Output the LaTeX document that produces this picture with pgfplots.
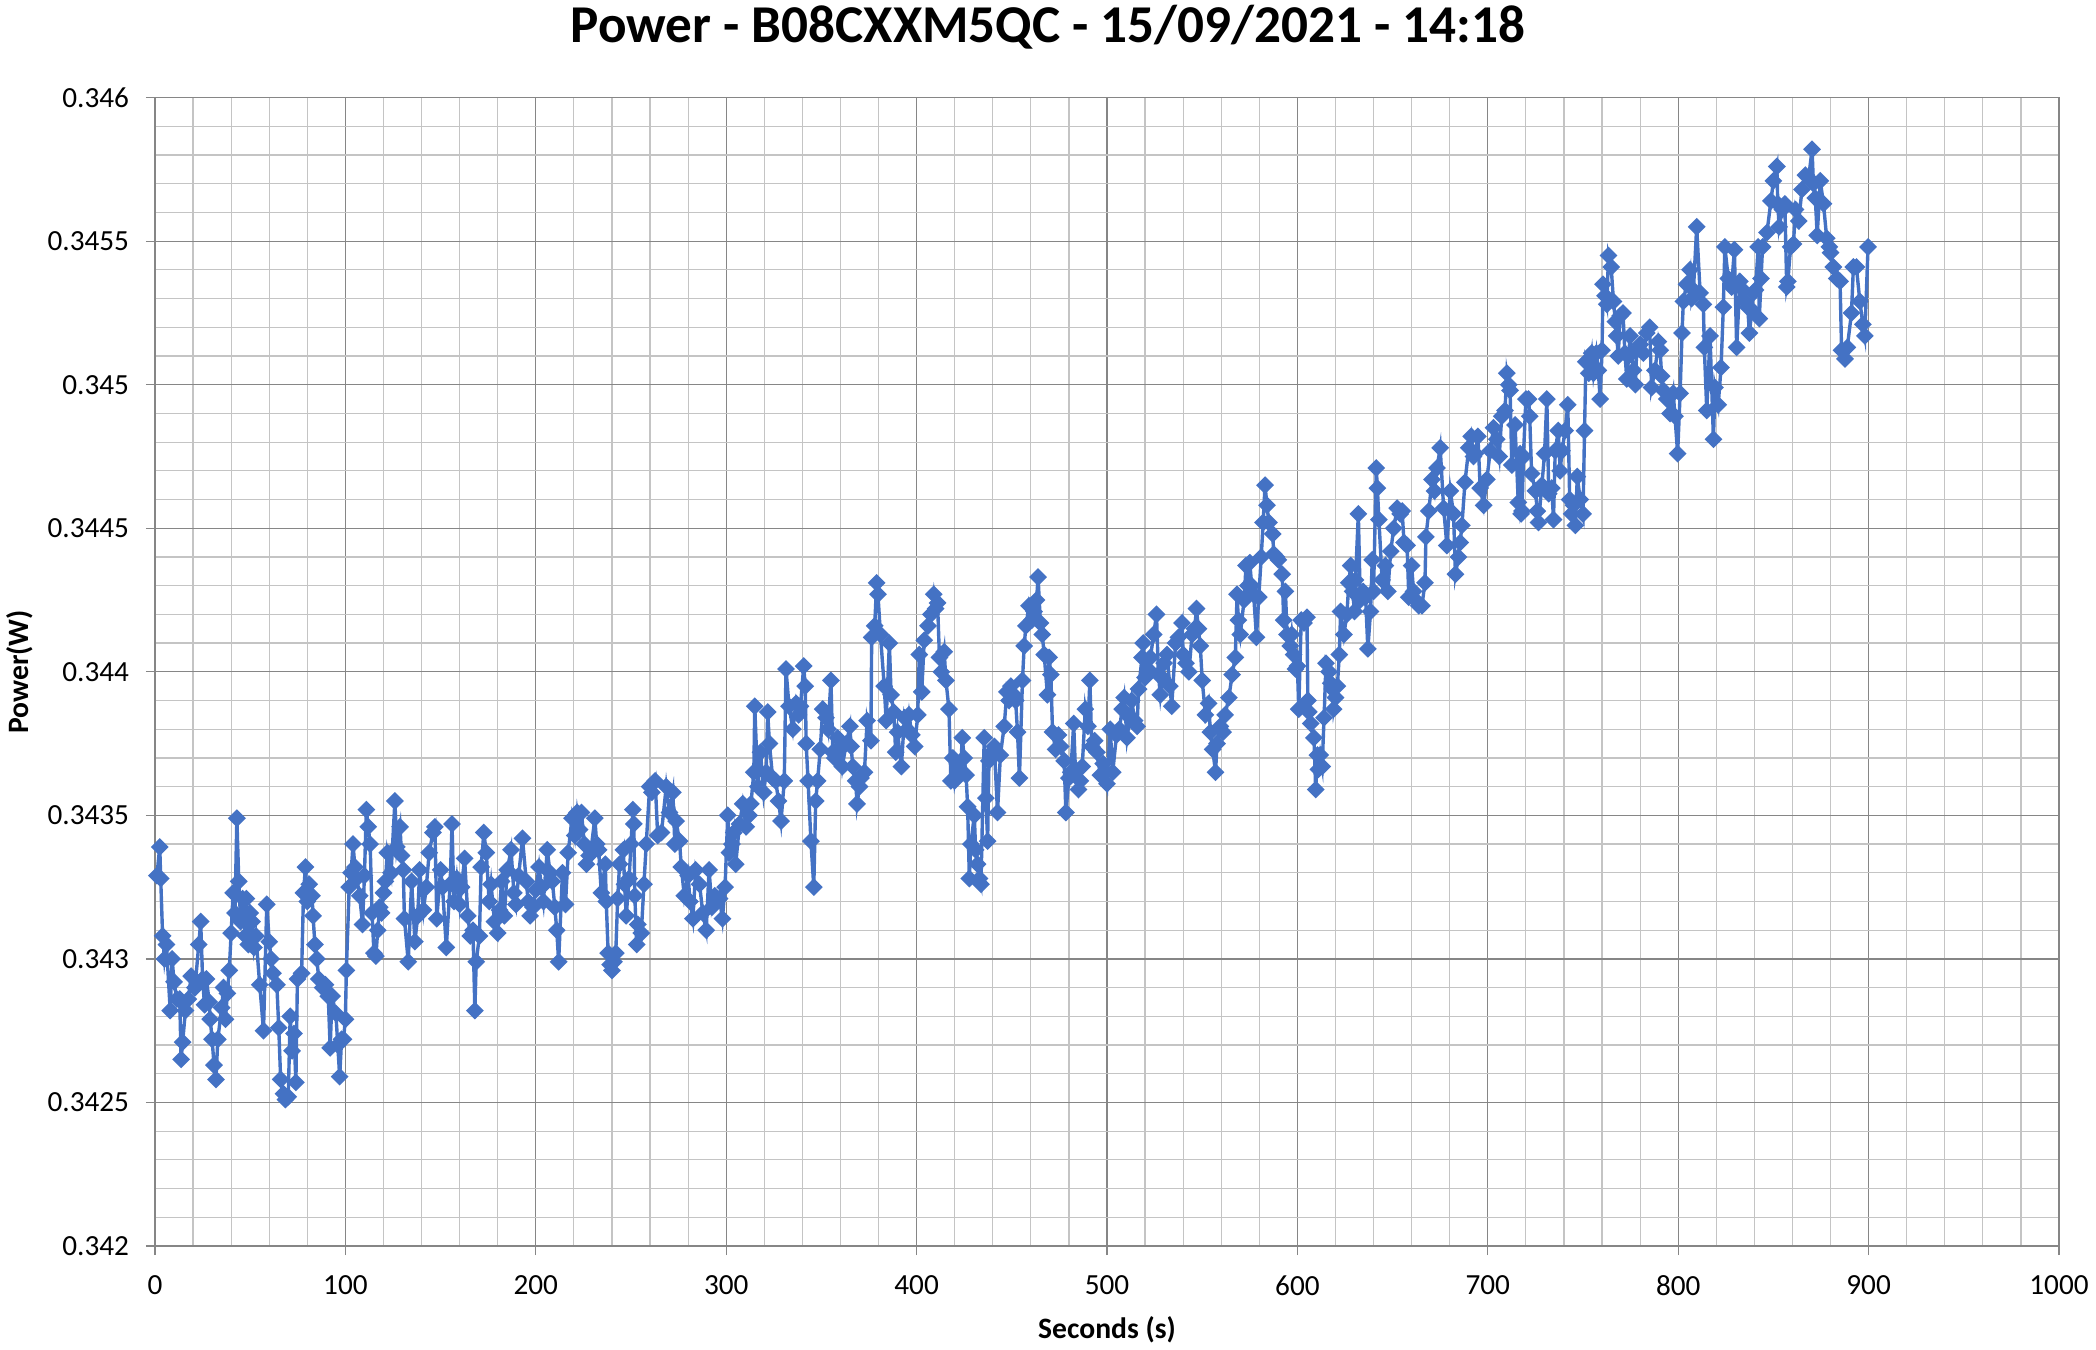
\documentclass[border=0pt]{standalone}
\usepackage{fontspec}
\setmainfont{Carlito}
\usepackage{pgfplots}
\pgfplotsset{compat=1.18}
\definecolor{xlblue}{RGB}{68,114,196}
\definecolor{gmaj}{RGB}{134,134,134}
\definecolor{gmin}{RGB}{196,196,196}

\begin{document}
\begin{tikzpicture}
\begin{axis}[
  scale only axis, width=476pt, height=287.1pt,
  xmin=0, xmax=1000, ymin=0.342, ymax=0.346,
  xtick={0,100,200,300,400,500,600,700,800,900,1000},
  xticklabels={0,100,200,300,400,500,600,700,800,900,1000},
  ytick={0.342,0.3425,0.343,0.3435,0.344,0.3445,0.345,0.3455,0.346},
  yticklabels={0.342,0.3425,0.343,0.3435,0.344,0.3445,0.345,0.3455,0.346},
  minor x tick num=4, minor y tick num=4,
  grid=both,
  major grid style={gmaj, line width=0.3pt},
  minor grid style={gmin, line width=0.3pt},
  axis line style={gmaj, line width=0.3pt},
  tick pos=left, tick align=outside,
  major tick length=2.3pt, minor tick length=0pt,
  major tick style={gmaj, line width=0.3pt},
  tick label style={font=\fontsize{7.3}{8.8}\selectfont},
  yticklabel style={inner sep=0pt, xshift=-4pt},
  xticklabel style={inner sep=0pt, yshift=-5pt},
  /pgf/number format/assume math mode=true,
  title={Power - B08CXXM5QC - 15/09/2021 - 14:18},
  every axis title/.style={at={(axis description cs:0.469,1.0617)}, anchor=center,
    font=\bfseries\fontsize{13.3}{16}\selectfont},
  xlabel={Seconds (s)},
  every axis x label/.style={at={(axis description cs:0.5,-0.0731)}, anchor=center,
    font=\bfseries\fontsize{7.4}{9}\selectfont},
  ylabel={Power(W)},
  every axis y label/.style={at={(axis description cs:-0.0709,0.5)}, anchor=center, rotate=90,
    font=\bfseries\fontsize{7.4}{9}\selectfont},
]
\addplot[xlblue, line width=0.85pt, mark=square*, mark size=1.15pt,
  mark options={rotate=45, fill=xlblue, draw=xlblue, solid}] table {
x y
1 0.34329
2.5 0.34339
3 0.34328
4 0.34308
5 0.34300
6 0.34305
8 0.34282
9 0.34300
10 0.34292
11.5 0.34286
13 0.34286
13.7 0.34265
14.5 0.34271
16 0.34282
17.5 0.34286
19 0.34294
21 0.34290
23 0.34305
24 0.34313
25 0.34293
26 0.34284
27 0.34293
28.5 0.34285
29 0.34279
30 0.34272
31 0.34263
32 0.34258
33 0.34272
35 0.34283
36 0.34290
37 0.34279
38 0.34288
39 0.34296
40 0.34309
41 0.34323
42 0.34316
43 0.34349
44 0.34327
45 0.34313
46 0.34321
47.5 0.34308
48 0.34321
49 0.34305
50 0.34316
51 0.34313
52 0.34304
53 0.34308
55 0.34291
57 0.34275
58.7 0.34319
60 0.34306
61 0.34300
62 0.34295
64 0.34291
65 0.34276
66 0.34258
67.5 0.34253
68.5 0.34251
70 0.34252
71 0.34280
72 0.34268
73 0.34274
74 0.34257
74.8 0.34293
77 0.34295
78 0.34323
79 0.34332
80 0.34320
81 0.34326
82.5 0.34322
83 0.34315
84 0.34305
85 0.34300
86 0.34293
88 0.34290
89.5 0.34291
91 0.34287
92 0.34269
93 0.34287
95 0.34281
96 0.34270
97 0.34259
98 0.34272
99 0.34272
100 0.34279
100.5 0.34296
102 0.34325
103 0.34330
104 0.34340
105 0.34332
106 0.34328
107.5 0.34322
109 0.34312
110 0.34329
111 0.34352
112 0.34346
113 0.34340
114 0.34316
115 0.34302
116 0.34301
117 0.34310
118 0.34318
119 0.34316
120 0.34323
121 0.34327
122 0.34337
124 0.34330
126 0.34355
127 0.34339
128.7 0.34346
129.5 0.34336
130.4 0.34331
131 0.34314
133 0.34299
134.8 0.34327
136.5 0.34306
138 0.34315
139 0.34331
141 0.34317
142.5 0.34325
144 0.34337
146 0.34344
147 0.34346
148 0.34314
150 0.34331
151 0.34325
153 0.34304
155 0.34326
156 0.34347
157 0.34320
158.5 0.34328
160 0.34319
161 0.34325
162.6 0.34335
164.3 0.34315
165.6 0.34308
167 0.34310
168 0.34282
168.7 0.34299
170.4 0.34308
171.3 0.34332
172.7 0.34344
174 0.34337
175.5 0.34320
176.5 0.34326
178.3 0.34313
180 0.34309
181 0.34317
182 0.34327
183.5 0.34315
185 0.34331
187 0.34338
188.5 0.34323
189.6 0.34319
191 0.34329
193 0.34342
195 0.34327
196 0.34320
197 0.34315
198.5 0.34318
200 0.34324
201.7 0.34332
203 0.34325
204 0.34320
206 0.34338
207.5 0.34330
208.7 0.34327
210 0.34318
211 0.34310
212 0.34299
214 0.34330
215.6 0.34319
217 0.34337
219 0.34349
220.5 0.34343
221.7 0.34351
223 0.34345
224 0.34351
225.5 0.34340
226.6 0.34333
228 0.34336
229 0.34338
231 0.34349
232 0.34340
233 0.34338
234.4 0.34323
236.5 0.34333
237 0.34320
238 0.34302
239 0.34298
240 0.34296
241 0.34299
242 0.34302
243 0.34321
244 0.34333
246 0.34338
246.6 0.34326
247.5 0.34315
249 0.34328
250 0.34340
251 0.34352
251.5 0.34347
252 0.34322
253 0.34305
253.6 0.34312
255.4 0.34309
256.8 0.34326
258 0.34340
259.8 0.34360
261 0.34358
262.7 0.34362
264 0.34343
266 0.34344
268.5 0.34360
270.2 0.34351
272 0.34358
273 0.34340
273.7 0.34348
275.5 0.34341
276.4 0.34332
278 0.34322
280 0.34329
281 0.34320
282.5 0.34314
284 0.34331
286 0.34326
287.7 0.34316
289.5 0.34310
291 0.34331
292.5 0.34318
294 0.34322
296.5 0.34321
298 0.34314
299.4 0.34325
300.8 0.34350
301.7 0.34337
303 0.34340
304 0.34344
305 0.34333
307 0.34347
308.7 0.34354
310.5 0.34346
312 0.34350
313 0.34354
314.5 0.34365
315 0.34388
316.6 0.34360
318 0.34372
319.7 0.34358
321 0.34365
321.8 0.34386
322.7 0.34375
324.4 0.34363
326 0.34362
327.5 0.34355
328.8 0.34348
330.5 0.34362
331.4 0.34401
333 0.34388
335 0.34380
336.7 0.34389
338 0.34385
339 0.34388
340.7 0.34402
341.5 0.34395
342 0.34375
343 0.34362
344.5 0.34341
346 0.34325
347 0.34355
348 0.34362
349.4 0.34373
350.7 0.34387
352.4 0.34384
353.5 0.34380
355 0.34397
356 0.34372
357 0.34370
358.5 0.34377
360 0.34374
361 0.34367
363 0.34375
365 0.34381
365.6 0.34374
366.5 0.34367
368 0.34362
368.7 0.34354
370 0.34360
370.8 0.34363
372.6 0.34365
374 0.34383
376 0.34376
376.4 0.34412
378 0.34416
379 0.34431
379.7 0.34427
381 0.34413
383 0.34395
384 0.34383
385.7 0.34410
386.6 0.34392
388 0.34386
389 0.34372
390 0.34379
392 0.34367
393.6 0.34384
395 0.34380
396 0.34385
397.5 0.34378
399 0.34374
400.6 0.34385
401.4 0.34406
402.7 0.34393
404 0.34411
406 0.34416
407.5 0.34420
409 0.34427
410 0.34422
411 0.34424
412 0.34405
413 0.34400
414.5 0.34407
415.4 0.34397
417 0.34387
418 0.34362
419 0.34370
420 0.34362
421.5 0.34368
423 0.34365
424 0.34377
425 0.34370
426 0.34364
426.8 0.34353
427.7 0.34328
428.5 0.34340
430.3 0.34350
431 0.34338
432 0.34333
433 0.34328
433.8 0.34326
435.5 0.34377
436.4 0.34356
437.3 0.34341
438 0.34369
439.5 0.34372
440.8 0.34374
442.5 0.34351
444 0.34371
446 0.34381
447.4 0.34393
448.5 0.34390
449.5 0.34395
451 0.34392
452 0.34390
453 0.34379
454 0.34363
455.6 0.34397
456.5 0.34409
457.4 0.34416
459 0.34423
460.5 0.34418
461.7 0.34421
463 0.34425
463.8 0.34433
465 0.34417
466 0.34413
467 0.34406
468.7 0.34392
469.6 0.34405
470.5 0.34399
471.4 0.34379
473 0.34373
474.5 0.34378
475.7 0.34374
477.5 0.34369
478.4 0.34351
480 0.34363
481 0.34365
482.5 0.34382
483.4 0.34366
485 0.34359
486 0.34362
487 0.34367
488.6 0.34387
490 0.34381
491 0.34397
492 0.34374
493.5 0.34376
494.7 0.34372
496.5 0.34364
498 0.34368
500 0.34361
501.7 0.34380
503 0.34365
505 0.34378
506.5 0.34380
508 0.34387
509 0.34391
510.5 0.34377
512 0.34384
513 0.34390
514.5 0.34383
515.8 0.34381
516.6 0.34394
518.4 0.34405
519 0.34410
520 0.34398
521.5 0.34401
522.8 0.34405
524.5 0.34413
526 0.34420
527 0.34399
528 0.34392
529 0.34398
530 0.34403
531.5 0.34406
533 0.34395
534 0.34388
536 0.34410
537.5 0.34412
539.4 0.34417
540 0.34406
541.5 0.34403
543 0.34400
544.7 0.34413
546 0.34415
547 0.34422
548 0.34415
549 0.34409
550 0.34397
551.7 0.34385
553.4 0.34389
554.3 0.34379
555.5 0.34373
557 0.34365
557.8 0.34375
559.5 0.34381
561 0.34379
562 0.34385
564 0.34391
565.7 0.34399
567.4 0.34405
568.3 0.34427
569 0.34418
570 0.34413
572 0.34425
573 0.34437
574 0.34430
575 0.34438
576 0.34430
577 0.34427
578.5 0.34412
579.7 0.34426
581 0.34440
582 0.34452
583 0.34465
584 0.34458
585 0.34452
587 0.34448
587.6 0.34441
589 0.34440
590 0.34439
592 0.34434
592.8 0.34418
593.7 0.34428
594.6 0.34413
596.3 0.34409
597 0.34413
598 0.34406
599 0.34401
600 0.34402
600.7 0.34387
602 0.34418
603.5 0.34417
605 0.34419
605.5 0.34390
606 0.34386
607 0.34382
608.7 0.34377
609.6 0.34359
610.5 0.34371
611 0.34366
612 0.34371
613 0.34367
614 0.34384
615 0.34403
616.6 0.34400
617.5 0.34396
618.3 0.34394
619 0.34387
620 0.34391
621 0.34395
622 0.34406
622.7 0.34421
624.4 0.34413
626 0.34420
627 0.34431
628 0.34437
629 0.34428
630 0.34421
630.5 0.34432
632 0.34455
633 0.34425
634.5 0.34428
635.8 0.34426
637 0.34408
638.4 0.34421
639.3 0.34439
640 0.34428
641.4 0.34471
642 0.34464
642.8 0.34453
644.5 0.34432
646.2 0.34437
647.5 0.34428
649 0.34442
650.6 0.34450
652.4 0.34457
654 0.34455
655 0.34456
656 0.34445
657.6 0.34444
658.5 0.34426
660 0.34437
661 0.34428
662 0.34425
663.7 0.34423
665.4 0.34423
667 0.34431
667.5 0.34447
669 0.34456
670.7 0.34467
672 0.34463
673.3 0.34471
675 0.34478
676.8 0.34457
678.5 0.34444
680.3 0.34463
682 0.34455
683 0.34434
684.6 0.34440
685.5 0.34445
686.4 0.34451
688 0.34466
690 0.34478
691.3 0.34482
692.5 0.34475
693.4 0.34476
694.8 0.34482
696 0.34464
697.8 0.34458
699.5 0.34467
701.3 0.34477
703 0.34485
704.7 0.34481
706 0.34475
707.3 0.34489
709 0.34491
710 0.34504
711 0.34500
711.7 0.34498
712.6 0.34472
714.3 0.34486
716 0.34459
717 0.34476
717.5 0.34455
718 0.34456
718.7 0.34475
720 0.34495
721.4 0.34495
722 0.34489
723 0.34469
725 0.34463
726 0.34456
726.6 0.34452
728.4 0.34465
729.8 0.34476
731 0.34495
732 0.34462
733.6 0.34464
734.5 0.34453
735.4 0.34477
737 0.34484
738 0.34470
739 0.34477
740.6 0.34484
742 0.34493
743 0.34460
744 0.34455
745 0.34458
746 0.34451
747 0.34468
748.5 0.34460
750 0.34455
750.8 0.34484
751.5 0.34508
753 0.34504
754.6 0.34511
755.5 0.34504
757 0.34511
758 0.34505
759 0.34495
760 0.34512
760.5 0.34535
761.6 0.34531
762.5 0.34528
763.4 0.34545
764.8 0.34541
766 0.34529
767 0.34522
767.7 0.34517
768.5 0.34510
769.5 0.34524
771 0.34525
772 0.34511
773 0.34502
774 0.34510
774.7 0.34517
776.5 0.34505
777.5 0.34500
778.2 0.34512
780 0.34514
781.7 0.34511
783.5 0.34518
785 0.34520
786 0.34499
787.8 0.34505
789.6 0.34515
790.5 0.34512
791.3 0.34503
792.2 0.34498
794 0.34495
795.7 0.34490
797.4 0.34497
798.3 0.34489
799.7 0.34476
801 0.34497
802 0.34518
802.7 0.34529
804.4 0.34535
806.2 0.34540
807 0.34530
808 0.34533
809.7 0.34555
811.5 0.34532
813.2 0.34528
813.7 0.34513
815 0.34491
816.7 0.34517
818.5 0.34481
819.3 0.34499
821 0.34493
822.5 0.34506
823.7 0.34527
824.5 0.34548
826.3 0.34537
828 0.34534
829.5 0.34547
830.7 0.34513
832.4 0.34536
834 0.34533
835 0.34529
836.5 0.34527
837.4 0.34518
838.7 0.34526
839.5 0.34532
840.6 0.34533
842 0.34548
842.6 0.34523
843.5 0.34537
844.3 0.34548
846.6 0.34553
848.7 0.34564
850 0.34571
851.8 0.34576
852.3 0.34563
853 0.34555
854.7 0.34561
856 0.34563
857 0.34534
857.6 0.34536
859 0.34548
860.5 0.34549
861.6 0.34561
863.3 0.34557
865 0.34568
866.8 0.34573
868.5 0.34572
870.3 0.34582
871 0.34570
872 0.34565
873 0.34552
874.6 0.34571
876.3 0.34563
878 0.34551
879.4 0.34548
880 0.34546
881.5 0.34541
883.3 0.34537
885 0.34536
885.8 0.34512
887.6 0.34509
888.8 0.34513
891 0.34525
892 0.34541
893.6 0.34541
895.4 0.34529
897 0.34521
898 0.34517
899.7 0.34548
};
\end{axis}
\pgfresetboundingbox
\path[use as bounding box] (-38.75pt,-25.75pt) rectangle (485.25pt,311.5pt);
\end{tikzpicture}
\end{document}
